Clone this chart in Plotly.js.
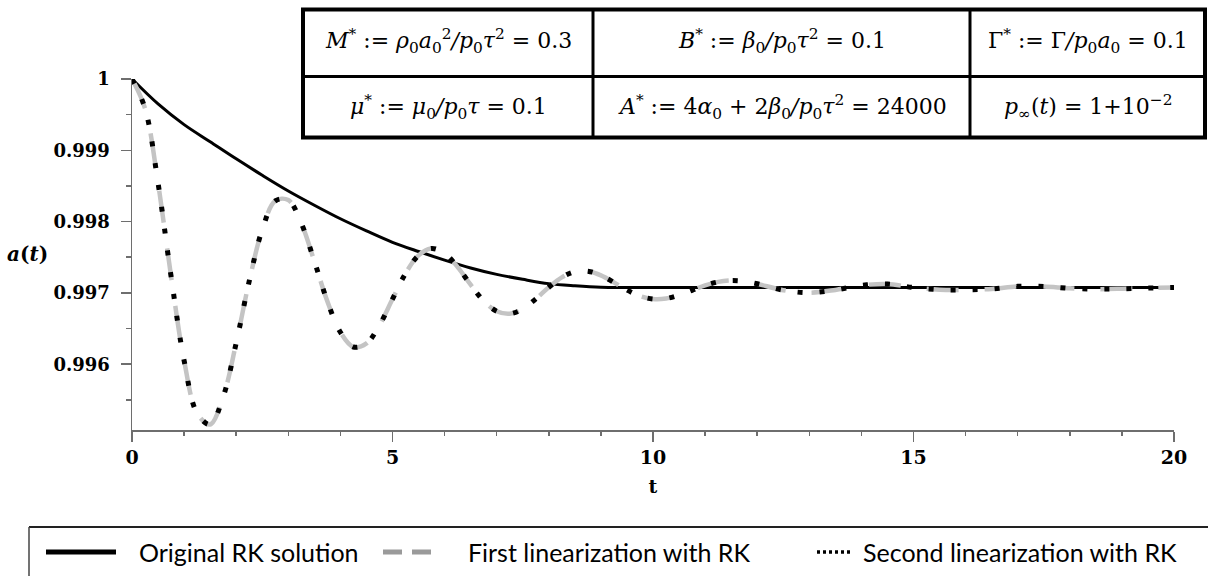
<!DOCTYPE html>
<html><head><meta charset="utf-8">
<script src="https://cdn.plot.ly/plotly-3.0.1.min.js"></script>
<style>html,body{margin:0;padding:0;background:#fff}#chart{width:1208px;height:576px}</style>
</head><body><div id="chart"></div>
<script>
// ---------- data ----------
const tOrig = [0,0.5,1,1.5,2,2.5,3,3.5,4,4.5,5,5.5,6,6.5,7,7.5,8,8.5,9,9.5,10,11,12,13,14,15,16,17,18,19,20];
const aOrig = [1.00000,0.99965,0.99936,0.99912,0.99888,0.99865,0.99843,0.99823,0.99804,0.99787,
               0.99771,0.99758,0.99746,0.99735,0.99726,0.99719,0.99713,0.99710,0.99708,0.997077,
               0.997076,0.997076,0.997076,0.997076,0.997076,0.997076,0.997076,0.997076,0.997076,0.997076,0.997076];

const tLin = [0,0.25,0.5,0.75,1,1.25,1.5,1.75,2,2.25,2.5,2.75,3,3.25,3.5,3.75,4,4.25,4.5,4.75,
              5,5.25,5.5,5.75,6,6.25,6.5,6.75,7,7.25,7.5,7.75,8,8.25,8.5,8.75,9,9.25,9.5,9.75,
              10,10.25,10.5,10.75,11,11.25,11.5,11.75,12,12.5,13,13.5,14,14.5,15,15.5,16,16.5,
              17,17.5,18,18.5,19,19.5,20];
const aLinFirst = [1.000000,0.999588,0.998541,0.997231,0.996051,0.995312,0.995155,0.995544,0.996298,0.997165,
                   0.997886,0.998290,0.998302,0.997976,0.997444,0.996881,0.996448,0.996241,0.996291,0.996548,
                   0.996913,0.997273,0.997526,0.997623,0.997554,0.997362,0.997115,0.996888,0.996743,0.996707,
                   0.996775,0.996915,0.997079,0.997218,0.997298,0.997305,0.997246,0.997147,0.997040,0.996956,
                   0.996914,0.996921,0.996968,0.997036,0.997105,0.997154,0.997174,0.997163,0.997128,0.997038,
                   0.997003,0.997042,0.997105,0.997125,0.997075,0.997045,0.997043,0.997055,0.997092,0.997090,
                   0.997064,0.997053,0.997058,0.997068,0.997075];
const aLinSecond = [1.000000,0.999588,0.998541,0.997231,0.996051,0.995312,0.995155,0.995544,0.996298,0.997165,
                    0.997886,0.998290,0.998302,0.997976,0.997444,0.996881,0.996448,0.996241,0.996291,0.996548,
                    0.996913,0.997273,0.997526,0.997623,0.997554,0.997362,0.997115,0.996888,0.996743,0.996707,
                    0.996775,0.996915,0.997079,0.997218,0.997298,0.997305,0.997246,0.997147,0.997040,0.996956,
                    0.996914,0.996921,0.996968,0.997036,0.997105,0.997154,0.997174,0.997163,0.997128,0.997038,
                    0.997003,0.997042,0.997105,0.997125,0.997075,0.997045,0.997043,0.997055,0.997092,0.997090,
                    0.997064,0.997053,0.997058,0.997068,0.997075];

const xTickVals = [0,5,10,15,20];
const xTickText = ['0','5','10','15','20'];
const xMinorVals = [1,2,3,4,6,7,8,9,11,12,13,14,16,17,18,19];
const yTickVals = [0.996,0.997,0.998,0.999,1];
const yTickText = ['0.996','0.997','0.998','0.999','1'];
const yMinorVals = [0.9955,0.9965,0.9975,0.9985,0.9995];
const xRange = [0,20];
const yRange = [0.995077,1.0];

const seriesNames = ['Original RK solution','First linearization with RK','Second linearization with RK'];
const xTitle = 't';
const yTitle = '<b><i>a</i>(<i>t</i>)</b>';
const tableRow1 = [
  '<i>M</i><sup>*</sup> := <i>ρ</i><sub>0</sub><i>a</i><sub>0</sub><sup>2</sup><i>/</i><i>p</i><sub>0</sub><i>τ</i><sup>2</sup> = 0.3',
  '<i>B</i><sup>*</sup> := <i>β</i><sub>0</sub><i>/</i><i>p</i><sub>0</sub><i>τ</i><sup>2</sup> = 0.1',
  'Γ<sup>*</sup> := Γ<i>/</i><i>p</i><sub>0</sub><i>a</i><sub>0</sub> = 0.1'
];
const tableRow2 = [
  '<i>μ</i><sup>*</sup> := <i>μ</i><sub>0</sub><i>/</i><i>p</i><sub>0</sub><i>τ</i> = 0.1',
  '<i>A</i><sup>*</sup> := 4<i>α</i><sub>0</sub> + 2<i>β</i><sub>0</sub><i>/</i><i>p</i><sub>0</sub><i>τ</i><sup>2</sup> = 24000',
  '<i>p</i><sub>∞</sub>(<i>t</i>) = 1+10<sup>−2</sup>'
];

// ---------- geometry ----------
const W = 1208, H = 576, ML = 132, MR = 34, MT = 79, MB = 146;
const PW = W - ML - MR, PH = H - MT - MB;
const px = v => (v - ML) / PW;
const py = v => (H - MB - v) / PH;

const serif = 'DejaVu Serif';
const sans = 'Lato';
const axisCol = '#6e6e6e';

const traces = [
  {x: tOrig, y: aOrig, name: seriesNames[0], type: 'scatter', mode: 'lines',
   line: {color: '#000', width: 3, shape: 'spline', smoothing: 1}},
  {x: tLin, y: aLinFirst, name: seriesNames[1], type: 'scatter', mode: 'lines',
   line: {color: '#c4c4c4', width: 4.5, dash: '32px,26px', shape: 'spline', smoothing: 1}},
  {x: tLin, y: aLinSecond, name: seriesNames[2], type: 'scatter', mode: 'lines',
   line: {color: '#000', width: 5, dash: '5px,17px', shape: 'spline', smoothing: 1}}
];

// table borders
const tbl = {l: 303, r: 1205, t: 9.5, b: 137.5, mid: 76.5, c1: 593, c2: 970};
const shapes = [
  {type: 'rect', xref: 'paper', yref: 'paper', layer: 'above',
   x0: px(tbl.l), x1: px(tbl.r), y0: py(tbl.t), y1: py(tbl.b),
   fillcolor: '#fff', line: {color: '#000', width: 4}},
  {type: 'line', xref: 'paper', yref: 'paper', layer: 'above',
   x0: px(tbl.l), x1: px(tbl.r), y0: py(tbl.mid), y1: py(tbl.mid), line: {color: '#000', width: 3}},
  {type: 'line', xref: 'paper', yref: 'paper', layer: 'above',
   x0: px(tbl.c1), x1: px(tbl.c1), y0: py(tbl.t), y1: py(tbl.b), line: {color: '#000', width: 3}},
  {type: 'line', xref: 'paper', yref: 'paper', layer: 'above',
   x0: px(tbl.c2), x1: px(tbl.c2), y0: py(tbl.t), y1: py(tbl.b), line: {color: '#000', width: 3}},
  // legend box (top and left edges visible)
  {type: 'line', xref: 'paper', yref: 'paper', x0: px(29), x1: px(1215), y0: py(527), y1: py(527), line: {color: '#222', width: 2}},
  {type: 'line', xref: 'paper', yref: 'paper', x0: px(29), x1: px(29), y0: py(527), y1: py(590), line: {color: '#444', width: 1.5}},
  // legend samples
  {type: 'line', xref: 'paper', yref: 'paper', x0: px(46), x1: px(116), y0: py(552), y1: py(552), line: {color: '#000', width: 5}},
  {type: 'line', xref: 'paper', yref: 'paper', x0: px(383), x1: px(431), y0: py(552), y1: py(552), line: {color: '#9a9a9a', width: 5, dash: '19px,10px'}},
  {type: 'line', xref: 'paper', yref: 'paper', x0: px(817), x1: px(852), y0: py(552), y1: py(552), line: {color: '#000', width: 3.5, dash: '3px,3px'}}
];

const cellX = [448, 782, 1088];
const annotations = [];
tableRow1.forEach((t, i) => annotations.push({xref: 'paper', yref: 'paper', x: px(cellX[i]), y: py(41),
  text: t, showarrow: false, xanchor: 'center', yanchor: 'middle', font: {family: serif, size: 22, color: '#000'}}));
tableRow2.forEach((t, i) => annotations.push({xref: 'paper', yref: 'paper', x: px(cellX[i]), y: py(107),
  text: t, showarrow: false, xanchor: 'center', yanchor: 'middle', font: {family: serif, size: 22, color: '#000'}}));
annotations.push({xref: 'paper', yref: 'paper', x: px(27.5), y: py(254), text: yTitle, showarrow: false,
  xanchor: 'center', yanchor: 'middle', font: {family: serif, size: 20, color: '#000'}});
const legX = [137, 466, 861];
seriesNames.forEach((n, i) => annotations.push({xref: 'paper', yref: 'paper', x: px(legX[i]), y: py(552),
  text: n, showarrow: false, xanchor: 'left', yanchor: 'middle', font: {family: sans, size: 25, color: '#000'}}));

const layout = {
  width: W, height: H,
  margin: {l: ML, r: MR, t: MT, b: MB, pad: 0},
  paper_bgcolor: '#fff', plot_bgcolor: '#fff',
  showlegend: false,
  font: {family: serif},
  xaxis: {
    range: xRange, showgrid: false, zeroline: false, showline: true, linecolor: axisCol, linewidth: 1.5,
    tickmode: 'array', tickvals: xTickVals, ticktext: xTickText,
    ticks: 'outside', ticklen: 10, tickwidth: 1.5, tickcolor: axisCol,
    minor: {tickmode: 'array', tickvals: xMinorVals, ticks: 'outside', ticklen: 4, tickwidth: 1.5, tickcolor: axisCol},
    tickfont: {family: serif, size: 19, color: '#000', weight: 'bold'},
    title: {text: xTitle, font: {family: serif, size: 19, color: '#000', weight: 'bold'}, standoff: 12}
  },
  yaxis: {
    range: yRange, showgrid: false, zeroline: false, showline: true, linecolor: axisCol, linewidth: 1.5,
    tickmode: 'array', tickvals: yTickVals, ticktext: yTickText,
    ticks: 'outside', ticklen: 10, tickwidth: 1.5, tickcolor: axisCol,
    minor: {tickmode: 'array', tickvals: yMinorVals, ticks: 'outside', ticklen: 5, tickwidth: 1.5, tickcolor: axisCol},
    tickfont: {family: serif, size: 18, color: '#000', weight: 'bold'},
    ticklabelstandoff: 7
  },
  shapes: shapes,
  annotations: annotations
};

Plotly.newPlot('chart', traces, layout, {displayModeBar: false, staticPlot: true});
</script>
</body></html>
